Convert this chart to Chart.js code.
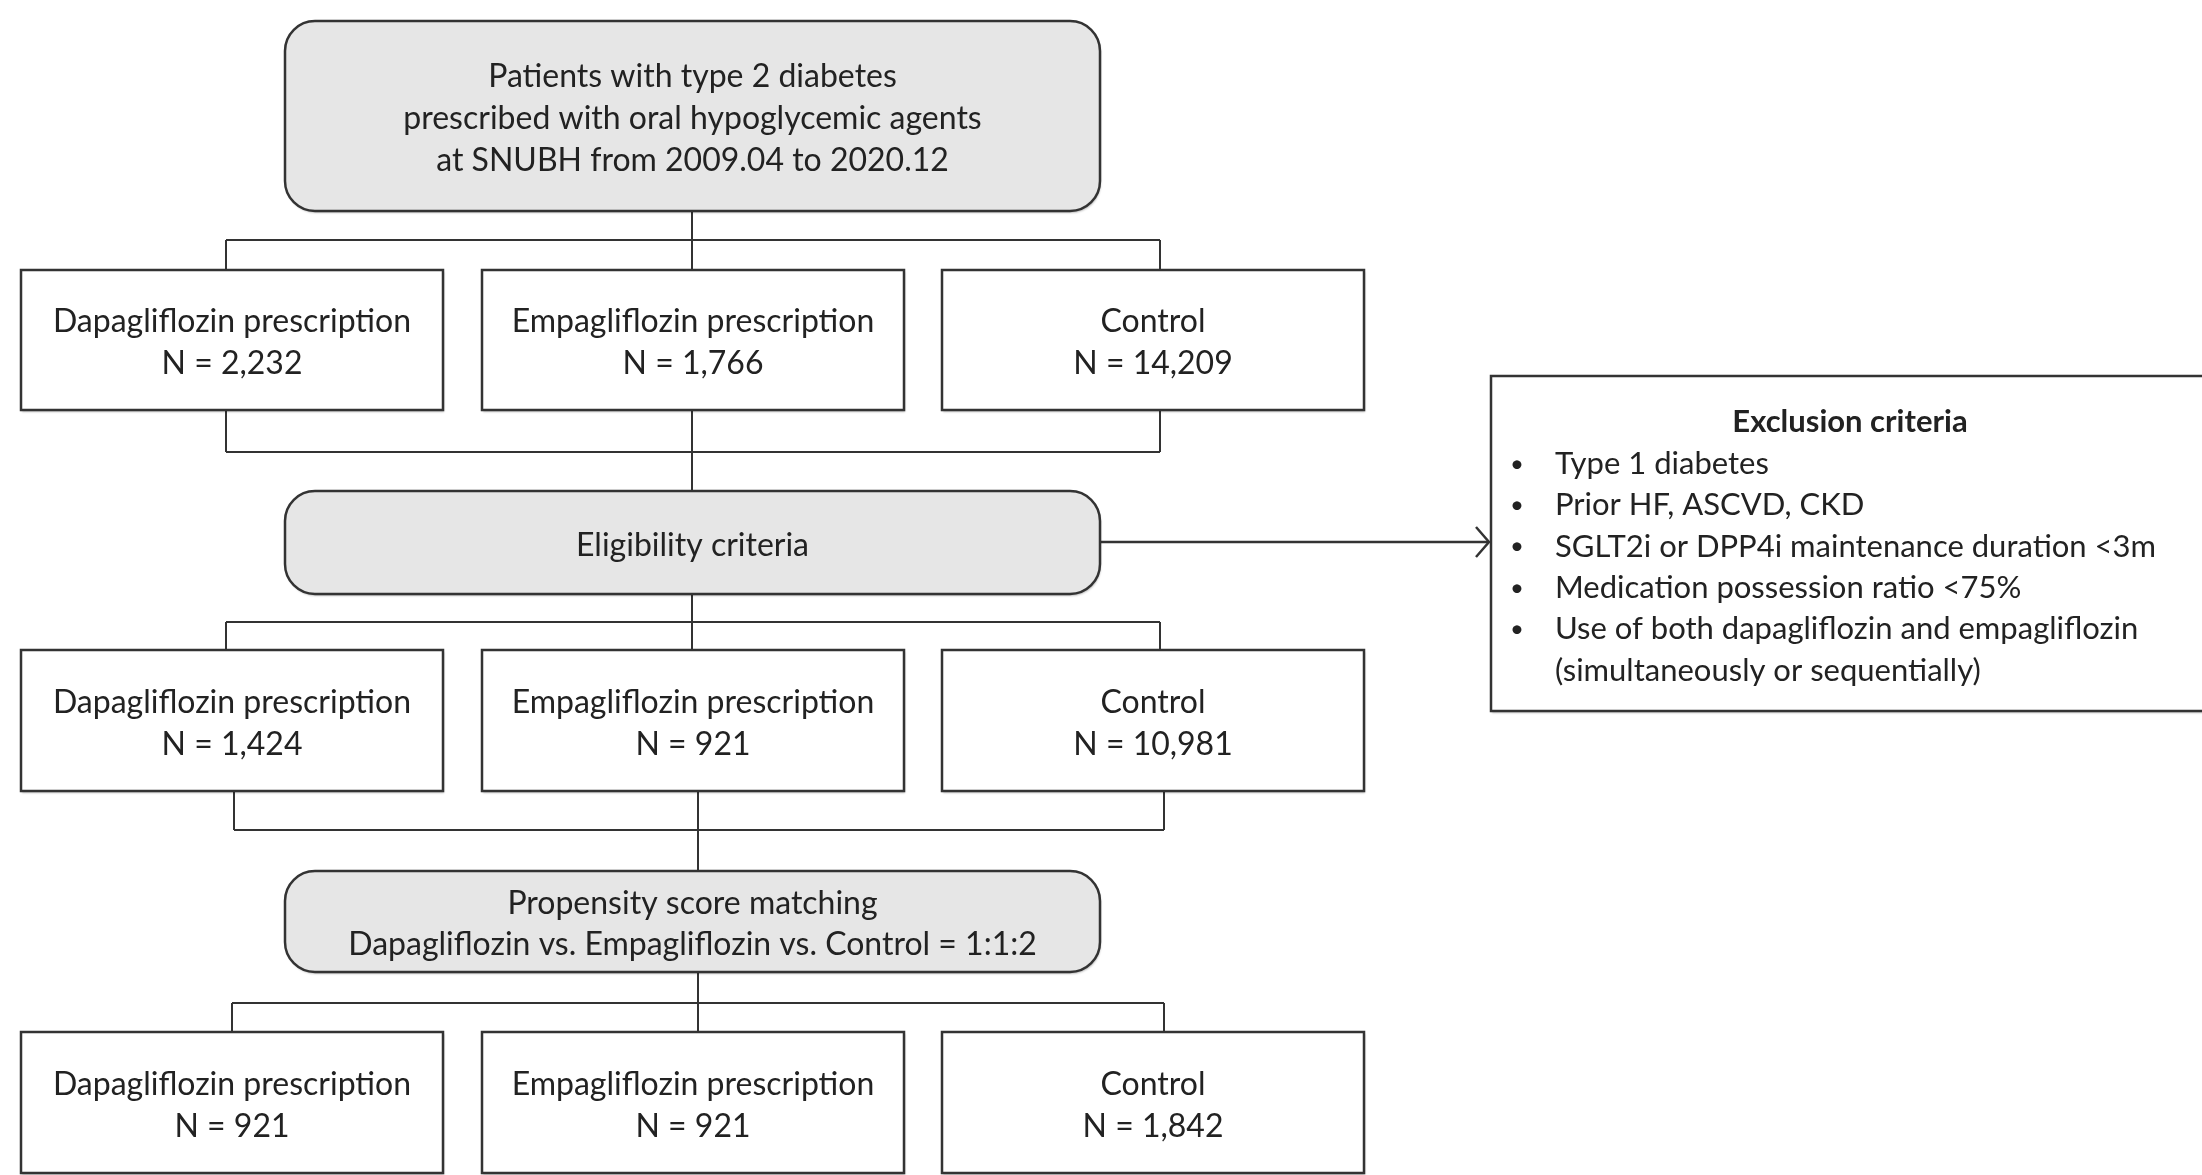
<!DOCTYPE html>
<html>
<head>
<meta charset="utf-8">
<script src="https://cdn.jsdelivr.net/npm/chart.js@4/dist/chart.umd.min.js"></script>
<style>
  html, body { margin: 0; padding: 0; background: #fff; }
  #wrap { width: 2202px; height: 1175px; }
</style>
</head>
<body>
<div id="wrap"><canvas id="flow"></canvas></div>
<script>
// flowchart content
const groups = ["Dapagliflozin prescription", "Empagliflozin prescription", "Control"];
const countsInitial = [2232, 1766, 14209];
const countsEligible = [1424, 921, 10981];
const countsMatched = [921, 921, 1842];

const sourceText = [
  "Patients with type 2 diabetes",
  "prescribed with oral hypoglycemic agents",
  "at SNUBH from 2009.04 to 2020.12"
];
const eligibilityText = ["Eligibility criteria"];
const matchingText = [
  "Propensity score matching",
  "Dapagliflozin vs. Empagliflozin vs. Control = 1:1:2"
];
const exclusionTitle = "Exclusion criteria";
const exclusionItems = [
  ["Type 1 diabetes"],
  ["Prior HF, ASCVD, CKD"],
  ["SGLT2i or DPP4i maintenance duration <3m"],
  ["Medication possession ratio <75%"],
  ["Use of both dapagliflozin and empagliflozin", "(simultaneously or sequentially)"]
];

// layout in axis units (x: 0-2202, y: 0-1175 top-down)
const W = 2202, H = 1175;
const colLeft = [21, 482, 942];
const colWidth = 422;
const wideBox = { x0: 285, x1: 1100 };
const rowTop = { source: 21, r1: 270, elig: 491, r2: 650, psm: 871, r3: 1032 };
const rowBottom = { source: 211, r1: 410, elig: 594, r2: 791, psm: 972, r3: 1173 };
const branchY = [240, 452, 622, 830, 1003];
const branchX = [[226, 692, 1160], [226, 692, 1160], [226, 692, 1160], [234, 698, 1164], [232, 698, 1164]];
const exclBox = { x0: 1491, x1: 2215, y0: 376, y1: 711 };

const FONT = "Lato, 'Open Sans', sans-serif";
const INK = "#333333";

function fmt(n) { return n.toLocaleString("en-US"); }

const flowPlugin = {
  id: "flow",
  afterDraw(chart) {
    const ctx = chart.ctx;
    const sx = v => chart.scales.x.getPixelForValue(v);
    const sy = v => chart.scales.y.getPixelForValue(v);

    function line(pts, w) {
      ctx.beginPath();
      ctx.moveTo(sx(pts[0][0]), sy(pts[0][1]));
      for (let i = 1; i < pts.length; i++) ctx.lineTo(sx(pts[i][0]), sy(pts[i][1]));
      ctx.lineWidth = w || 2;
      ctx.strokeStyle = INK;
      ctx.stroke();
    }

    function box(x0, y0, x1, y1, rounded) {
      const px0 = sx(x0), py0 = sy(y0), px1 = sx(x1), py1 = sy(y1);
      ctx.save();
      ctx.shadowColor = "rgba(0,0,0,0.25)";
      ctx.shadowOffsetX = 1;
      ctx.shadowOffsetY = 2;
      ctx.shadowBlur = 2;
      ctx.beginPath();
      if (rounded) ctx.roundRect(px0, py0, px1 - px0, py1 - py0, 30);
      else ctx.rect(px0, py0, px1 - px0, py1 - py0);
      ctx.fillStyle = rounded ? "#e6e6e6" : "#ffffff";
      ctx.fill();
      ctx.restore();
      ctx.beginPath();
      if (rounded) ctx.roundRect(px0, py0, px1 - px0, py1 - py0, 30);
      else ctx.rect(px0, py0, px1 - px0, py1 - py0);
      ctx.lineWidth = 2.5;
      ctx.strokeStyle = INK;
      ctx.stroke();
    }

    function textBlock(lines, cx, cy, gap) {
      ctx.fillStyle = "#222222";
      ctx.font = "32px " + FONT;
      ctx.textAlign = "center";
      ctx.textBaseline = "middle";
      const start = cy + 3 - (lines.length - 1) * gap / 2;
      lines.forEach((t, i) => ctx.fillText(t, sx(cx), sy(start + i * gap)));
    }

    // connectors
    const levels = [
      [rowBottom.source, branchY[0], rowTop.r1, "down"],
      [rowBottom.r1, branchY[1], rowTop.elig, "up"],
      [rowBottom.elig, branchY[2], rowTop.r2, "down"],
      [rowBottom.r2, branchY[3], rowTop.psm, "up"],
      [rowBottom.psm, branchY[4], rowTop.r3, "down"]
    ];
    levels.forEach(([yA, yB, yC, dir], k) => {
      const xs = branchX[k];
      line([[xs[0], yB], [xs[2], yB]]);
      line([[xs[1], yA], [xs[1], yC]]);
      if (dir === "down") {
        line([[xs[0], yB], [xs[0], yC]]);
        line([[xs[2], yB], [xs[2], yC]]);
      } else {
        line([[xs[0], yA], [xs[0], yB]]);
        line([[xs[2], yA], [xs[2], yB]]);
      }
    });

    // arrow to exclusion box
    const ay = (rowTop.elig + rowBottom.elig) / 2 - 0.5;
    line([[wideBox.x1, ay], [exclBox.x0 - 2, ay]], 2.5);
    line([[exclBox.x0 - 15, ay - 15], [exclBox.x0 - 2, ay], [exclBox.x0 - 15, ay + 15]], 2.5);

    // wide gray boxes
    box(wideBox.x0, rowTop.source, wideBox.x1, rowBottom.source, true);
    textBlock(sourceText, (wideBox.x0 + wideBox.x1) / 2, (rowTop.source + rowBottom.source) / 2, 42);
    box(wideBox.x0, rowTop.elig, wideBox.x1, rowBottom.elig, true);
    textBlock(eligibilityText, (wideBox.x0 + wideBox.x1) / 2, (rowTop.elig + rowBottom.elig) / 2, 42);
    box(wideBox.x0, rowTop.psm, wideBox.x1, rowBottom.psm, true);
    textBlock(matchingText, (wideBox.x0 + wideBox.x1) / 2, (rowTop.psm + rowBottom.psm) / 2, 41);

    // group boxes
    const rows = [["r1", countsInitial], ["r2", countsEligible], ["r3", countsMatched]];
    rows.forEach(([r, counts]) => {
      groups.forEach((g, i) => {
        box(colLeft[i], rowTop[r], colLeft[i] + colWidth, rowBottom[r], false);
        textBlock([g, "N = " + fmt(counts[i])], colLeft[i] + colWidth / 2, (rowTop[r] + rowBottom[r]) / 2, 42);
      });
    });

    // exclusion box
    box(exclBox.x0, exclBox.y0, exclBox.x1, exclBox.y1, false);
    ctx.fillStyle = "#222222";
    ctx.textBaseline = "middle";
    ctx.textAlign = "center";
    ctx.font = "bold 31px " + FONT;
    ctx.fillText(exclusionTitle, sx(1850), sy(422));
    let y = 464;
    exclusionItems.forEach(item => {
      ctx.textAlign = "center";
      ctx.font = "24px " + FONT;
      ctx.fillText("•", sx(1517), sy(y));
      ctx.textAlign = "left";
      ctx.font = "31px " + FONT;
      item.forEach(t => {
        ctx.fillText(t, sx(1555), sy(y));
        y += 41.3;
      });
    });
  }
};

new Chart(document.getElementById("flow"), {
  type: "scatter",
  data: { datasets: [{ data: [], pointRadius: 0 }] },
  options: {
    responsive: true,
    maintainAspectRatio: false,
    animation: false,
    layout: { padding: 0 },
    plugins: { legend: { display: false }, tooltip: { enabled: false } },
    scales: {
      x: { type: "linear", min: 0, max: W, display: false },
      y: { type: "linear", min: 0, max: H, reverse: true, display: false }
    }
  },
  plugins: [flowPlugin]
});
</script>
</body>
</html>
